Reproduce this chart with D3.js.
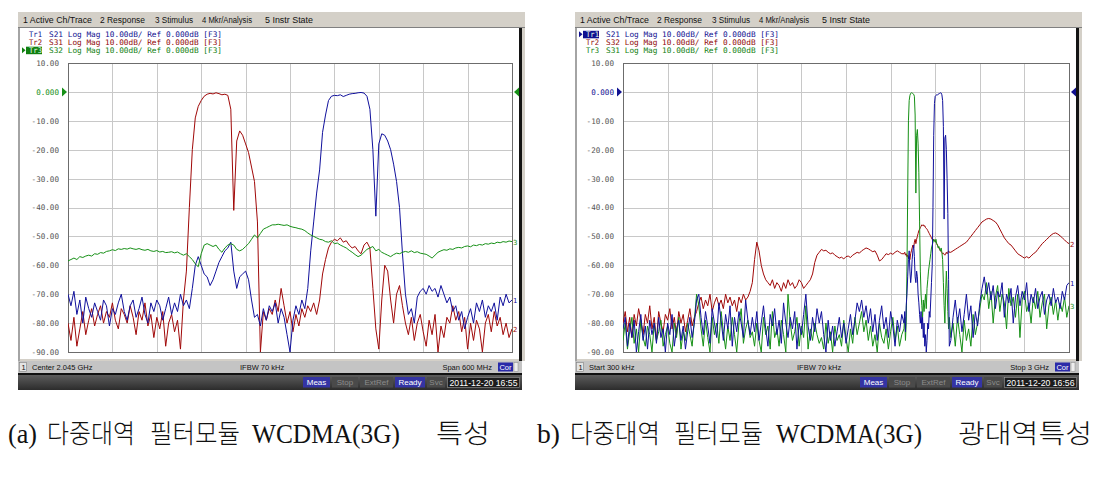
<!DOCTYPE html>
<html>
<head>
<meta charset="utf-8">
<script src="https://cdn.jsdelivr.net/npm/d3@7"></script>
<style>
  body { margin: 0; background: #fff; }
  svg { display: block; }
</style>
</head>
<body>
<svg id="chart" width="1103" height="480"></svg>
<script>
// ---------- data ----------
const yTicks = [10, 0, -10, -20, -30, -40, -50, -60, -70, -80, -90];
const yTickLabels = ["10.00", "0.000", "-10.00", "-20.00", "-30.00", "-40.00", "-50.00", "-60.00", "-70.00", "-80.00", "-90.00"];
const menuItems = ["1 Active Ch/Trace", "2 Response", "3 Stimulus", "4 Mkr/Analysis", "5 Instr State"];

// (a) narrow sweep: center 2.045 GHz, span 600 MHz (MHz)
const leftFreq = d3.range(1745, 2346, 4);
const leftS21 = [
  -70,-74,-69,-77,-72,-80,-71,-75,-78,-73,
  -76,-79,-72,-74,-81,-75,-77,-73,-70,-76,
  -79,-74,-72,-78,-75,-71,-77,-80,-73,-76,
  -72,-74,-79,-75,-71,-77,-73,-76,-70,-74,
  -72,-75,-68,-60,-57,-60,-63,-64,-67,-65,
  -62,-59,-57,-55,-54,-52,-62,-68,-64,-63,
  -62,-65,-72,-78,-77,-81,-75,-79,-74,-76,
  -73,-80,-75,-78,-84,-90,-79,-74,-77,-72,
  -75,-68,-55,-45,-35,-27,-14,-8,-3,-1.5,
  -1.2,-1.3,-1.0,-1.6,-1.2,-0.8,-0.6,-0.5,-0.3,-0.2,
  -0.4,-1.5,-6,-20,-43,-18,-14.5,-15,-17,-20,
  -25,-31,-40,-56,-70,-77,-75,-80,-71,-69,
  -68,-70,-67,-69,-68,-71,-67,-70,-73,-71,
  -76,-74,-79,-76,-82,-78,-75,-80,-73,-76,
  -72,-78,-74,-76,-73,-79,-71,-74,-70,-73,
  -72
];
const leftS31 = [
  -80,-86,-78,-88,-82,-76,-84,-79,-75,-81,
  -77,-74,-80,-76,-78,-73,-79,-82,-75,-77,
  -80,-74,-78,-84,-76,-79,-73,-81,-77,-85,
  -78,-82,-76,-88,-80,-77,-83,-79,-89,-72,
  -62,-40,-20,-9,-5,-3,-1.5,-0.8,-0.5,-0.7,
  -0.3,-0.6,-1.0,-0.8,-1.2,-6,-41,-17,-13.5,-15,
  -18,-21,-26,-31,-45,-90,-76,-79,-75,-77,
  -72,-76,-68,-74,-80,-76,-83,-77,-81,-75,
  -78,-74,-76,-73,-77,-72,-63,-58,-54,-52,
  -51,-51.5,-50.5,-52,-51.5,-53,-54,-53.5,-55,-56,
  -53,-52,-54,-68,-82,-89,-72,-60,-62,-72,
  -80,-70,-67,-74,-80,-84,-78,-86,-80,-77,
  -83,-88,-79,-84,-77,-90,-81,-85,-78,-80,
  -74,-79,-76,-83,-78,-89,-80,-86,-79,-82,
  -90,-80,-77,-83,-76,-81,-78,-84,-80,-85,
  -82
];
const leftS32 = [
  -58.5,-58,-57.5,-58,-57,-57.3,-56.8,-56.5,-56.8,-56,
  -56.2,-55.6,-55.8,-55.2,-55,-54.6,-54.9,-54.3,-54.5,-54.2,
  -54.4,-54,-54.3,-54.5,-54.2,-54.6,-54.8,-54.5,-55,-55.2,
  -54.9,-55.4,-55.2,-55.6,-55.5,-55.3,-55.7,-55.4,-56,-56.5,
  -56,-57,-58,-59.5,-60.5,-56,-53,-52.5,-53,-53.5,
  -53,-54.5,-55.5,-54,-53,-52.5,-53,-54.5,-55,-54.5,
  -53.5,-52.5,-51,-49.5,-50.5,-49,-47.5,-47,-46.5,-46,
  -46,-45.8,-46,-46.2,-46,-46.5,-46.8,-47,-47.3,-47.5,
  -48,-48.8,-49.5,-50,-50.5,-51,-51.2,-51.8,-52,-51.5,
  -52.5,-52.3,-53,-53.5,-54,-54.8,-55.5,-56.3,-57,-56.5,
  -55.5,-54.5,-54,-53.5,-55,-54.5,-55.5,-56,-56.5,-57,
  -56.3,-55.8,-56,-55.5,-55.2,-55.5,-55,-55.6,-55.3,-55.8,
  -56,-56.2,-56.8,-57.5,-56.5,-55.5,-55,-54.6,-54.8,-54.3,
  -54.5,-54,-53.8,-54,-53.5,-53.3,-53.6,-53,-53.2,-52.8,
  -53,-52.5,-52.7,-52.3,-52.5,-52,-52.2,-51.8,-52,-51.6,-51.8
];

// (b) wide sweep: start 300 kHz, stop 3 GHz (MHz), finer points around the bands
const rightFreqLo = d3.range(0, 1876, 15);
const rightFreqMid = d3.range(1890, 2196, 5);
const rightFreqHi = d3.range(2205, 3001, 15);

const rightS21Lo = [
  -82,-78,-88,-80,-85,-79,-90,-83,-77,-86,
  -81,-89,-79,-84,-80,-87,-78,-85,-82,-90,
  -80,-84,-77,-88,-82,-79,-86,-81,-89,-83,
  -78,-85,-80,-72,-70,-78,-84,-76,-81,-87,
  -75,-80,-85,-73,-79,-86,-77,-82,-74,-88,
  -78,-83,-76,-80,-85,-72,-79,-84,-78,-83,
  -76,-86,-80,-74,-82,-88,-77,-81,-75,-84,
  -79,-87,-73,-80,-85,-78,-82,-76,-89,-80,
  -84,-77,-70,-81,-86,-78,-83,-75,-80,-76,
  -84,-90,-79,-86,-81,-88,-83,-78,-85,-80,
  -87,-82,-77,-84,-79,-73,-76,-72,-78,-74,
  -80,-75,-83,-77,-86,-79,-74,-82,-78,-85,
  -76,-81,-88,-79,-83,-77
];
const rightS21Mid = [
  -80,-76,-83,-74,-70,-64,-58,-55,-62,-66,
  -63,-58,-55,-53,-57,-64,-66,-62,-64,-70,
  -73,-77,-80,-76,-82,-78,-85,-80,-88,-84,
  -90,-86,-80,-82,-76,-78,-72,-66,-60,-40,
  -15,-4,-1.5,-1.2,-1.0,-1.1,-0.8,-0.6,-0.5,-0.3,
  -0.4,-1.0,-3,-12,-44,-16,-15,-20,-30,-42,
  -65,-88
];
const rightS21Hi = [
  -86,-78,-72,-80,-75,-83,-77,-70,-79,-74,
  -85,-76,-81,-73,-68,-64,-70,-66,-72,-67,
  -75,-69,-71,-66,-78,-70,-73,-68,-80,-71,
  -67,-74,-69,-72,-66,-76,-70,-73,-68,-75,
  -71,-69,-77,-72,-70,-74,-68,-73,-71,-75,
  -69,-72,-67,-66
];

const rightS32Lo = [
  -80,-76,-83,-78,-85,-77,-81,-75,-79,-84,
  -77,-80,-74,-82,-78,-86,-76,-80,-83,-77,
  -79,-75,-82,-78,-84,-76,-80,-77,-83,-79,
  -75,-81,-78,-76,-73,-71,-75,-72,-74,-70,
  -76,-73,-71,-74,-72,-75,-70,-73,-71,-74,
  -72,-76,-71,-73,-70,-72,-71,-69,-66,-58,
  -52,-55,-60,-63,-65,-66,-67,-65,-68,-66,
  -67,-69,-66,-68,-65,-67,-66,-68,-67,-65,
  -66,-68,-67,-66,-65,-63,-59,-56.5,-55.5,-54.5,
  -55,-54.8,-55.5,-56,-55.7,-56.5,-57,-57.5,-57.2,-57.8,
  -57,-56.8,-57.3,-56.5,-56,-55.5,-55.8,-55,-54.5,-54,
  -54.3,-54.8,-55.3,-55,-56.5,-58.5,-58,-57,-56,-56.3,
  -55.8,-56.2,-55.5,-55,-55.5,-56
];
const rightS32Mid = [
  -56,-55.5,-56.5,-56,-57,-56.5,-57.5,-57,-58,-56,
  -55,-54,-53,-54,-52,-51,-52.5,-51,-50,-49,
  -48,-47.5,-47,-46.5,-46,-46.2,-46,-46.5,-46.3,-47,
  -47.2,-47.5,-48,-48.5,-49,-49.5,-50,-50.5,-51,-51.5,
  -51,-51.3,-51.6,-52,-52.5,-53,-53.5,-54,-54.5,-55,
  -55.3,-55.6,-56,-55.8,-56.2,-56.5,-56,-55.5,-56,-55.5,
  -55,-55.5
];
const rightS32Hi = [
  -55.5,-55,-54.5,-54,-53.5,-53,-52.5,-52,-51,-50,
  -49,-48,-47,-46,-45,-44.5,-44,-43.8,-44,-44.5,
  -45,-46,-47.5,-49,-50.5,-51.5,-52.5,-53,-54,-55,
  -56,-56.5,-57,-57.5,-57,-57.5,-56.8,-56,-55.5,-54.5,
  -53.5,-52.5,-51.8,-51,-50.3,-49.5,-49,-48.8,-49.2,-49.8,
  -50.5,-51.2,-52,-52.5
];

const rightS31Lo = [
  -86,-80,-89,-83,-78,-87,-82,-90,-79,-85,
  -88,-81,-84,-90,-80,-86,-83,-79,-88,-84,
  -81,-87,-90,-80,-85,-78,-89,-83,-86,-80,
  -84,-88,-79,-70,-74,-82,-88,-79,-85,-90,
  -78,-84,-80,-87,-76,-83,-89,-81,-86,-78,
  -84,-90,-80,-75,-87,-82,-79,-85,-83,-88,
  -80,-86,-90,-78,-84,-81,-89,-76,-85,-82,
  -88,-79,-84,-90,-70,-80,-86,-83,-78,-88,
  -81,-85,-74,-89,-82,-86,-80,-84,-87,-85,
  -89,-80,-87,-83,-90,-81,-86,-84,-88,-79,
  -85,-90,-82,-87,-78,-84,-80,-76,-83,-79,
  -86,-81,-88,-84,-90,-80,-85,-87,-82,-89,
  -83,-78,-86,-81,-88,-84
];
const rightS31Mid = [
  -82,-78,-86,-80,-62,-35,-10,-3,-1.2,-0.5,
  -0.3,-0.4,-0.6,-0.8,-1.5,-8,-35,-15,-13,-18,
  -28,-45,-62,-70,-74,-78,-72,-76,-73,-70,
  -75,-68,-65,-62,-60,-58,-56,-54,-53,-52,
  -51,-51.5,-52,-51,-52.5,-53,-54,-53.5,-54.5,-55,
  -54,-55.5,-58,-66,-74,-80,-70,-62,-68,-76,
  -82,-78
];
const rightS31Hi = [
  -85,-80,-88,-78,-84,-90,-79,-86,-82,-88,
  -77,-84,-80,-75,-70,-72,-66,-75,-69,-80,
  -71,-67,-76,-70,-73,-82,-68,-74,-71,-78,
  -70,-85,-72,-69,-76,-73,-80,-71,-75,-69,
  -78,-73,-70,-82,-74,-71,-77,-72,-79,-73,
  -76,-71,-78,-74
];

const captionLeft = ["(a)", "다중대역", "필터모듈", "WCDMA(3G)", "특성"];
const captionRight = ["b)", "다중대역", "필터모듈", "WCDMA(3G)", "광대역특성"];

// ---------- helpers ----------
const BLUE = "#10109c", RED = "#a00808", GREEN = "#169016";
const svg = d3.select("#chart");

function pairs(freqs, vals) {
  return d3.zip(freqs.slice(0, vals.length), vals);
}

const y = d3.scaleLinear().domain([-90, 10]).range([352, 63]);

function drawPanel(cfg) {
  const x0 = cfg.x0, x1 = cfg.x1;
  const g = svg.append("g");
  const x = d3.scaleLinear().domain(cfg.domain).range([cfg.gx0, cfg.gx1]);

  // window frame
  g.append("rect").attr("x", x0).attr("y", 12).attr("width", x1 - x0).attr("height", 349)
    .attr("fill", "#d4d0c8");
  g.append("rect").attr("x", x0 + 2).attr("y", 28).attr("width", x1 - x0 - 8).attr("height", 331)
    .attr("fill", "#fff");
  g.append("rect").attr("x", x0).attr("y", 28).attr("width", 2).attr("height", 333).attr("fill", "#a4a4a4");
  g.append("rect").attr("x", x1 - 6).attr("y", 28).attr("width", 3).attr("height", 333).attr("fill", "#141414");
  g.append("line").attr("x1", x0).attr("x2", x1).attr("y1", 27.5).attr("y2", 27.5)
    .attr("stroke", "#808080");

  // menu
  const menuX = [5, 82, 137, 184, 247], menuW = [69, 45, 38, 50, 48];
  g.selectAll(".menu").data(menuItems).join("text")
    .attr("x", (d, i) => x0 + menuX[i]).attr("y", 22.5)
    .attr("textLength", (d, i) => menuW[i]).attr("lengthAdjust", "spacingAndGlyphs")
    .style("font-family", "Liberation Sans, Arial, sans-serif").style("font-size", "8.5px")
    .attr("fill", "#111").text(d => d);

  // header lines
  const rowY = [37.3, 45.2, 53.2];
  cfg.header.forEach((h, i) => {
    if (i === cfg.active) {
      g.append("path").attr("d", `M${x0 + 4},${rowY[i] - 6} L${x0 + 7.5},${rowY[i] - 3} L${x0 + 4},${rowY[i]} Z`)
        .attr("fill", h.color);
      g.append("rect").attr("x", x0 + 8).attr("y", rowY[i] - 6.5).attr("width", 16).attr("height", 7.5)
        .attr("fill", h.color);
    }
    g.append("text").attr("x", x0 + 11).attr("y", rowY[i])
      .attr("textLength", 13).attr("lengthAdjust", "spacingAndGlyphs")
      .style("font-family", "DejaVu Sans Mono, monospace").style("font-size", "7.6px")
      .attr("fill", i === cfg.active ? "#e8ffe8" : h.color).text(h.tr);
    g.append("text").attr("x", x0 + 31).attr("y", rowY[i])
      .attr("textLength", 173).attr("lengthAdjust", "spacingAndGlyphs")
      .style("font-family", "DejaVu Sans Mono, monospace").style("font-size", "7.6px")
      .attr("fill", h.color).text(h.text);
  });

  // grid
  const divs = d3.range(11).map(i => cfg.domain[0] + i * (cfg.domain[1] - cfg.domain[0]) / 10);
  g.selectAll(".vg").data(divs.slice(1, 10)).join("line")
    .attr("x1", d => Math.round(x(d)) + 0.5).attr("x2", d => Math.round(x(d)) + 0.5)
    .attr("y1", y(10)).attr("y2", y(-90)).attr("stroke", "#c8c8c8");
  g.selectAll(".hg").data(yTicks.slice(1, 10)).join("line")
    .attr("x1", cfg.gx0).attr("x2", cfg.gx1)
    .attr("y1", d => Math.round(y(d)) + 0.5).attr("y2", d => Math.round(y(d)) + 0.5)
    .attr("stroke", "#c8c8c8");
  g.append("rect").attr("x", cfg.gx0 + 0.5).attr("y", Math.round(y(10)) + 0.5)
    .attr("width", cfg.gx1 - cfg.gx0).attr("height", Math.round(y(-90) - y(10)))
    .attr("fill", "none").attr("stroke", "#6c6c6c");

  // y axis labels
  const ax = g.append("g").attr("transform", `translate(${cfg.gx0 - 9},0)`)
    .call(d3.axisLeft(y).tickValues(yTicks).tickFormat((d, i) => yTickLabels[i]).tickSize(0).tickPadding(0));
  ax.select(".domain").remove();
  ax.selectAll("text")
    .style("font-family", "DejaVu Sans Mono, monospace").style("font-size", "7.6px")
    .attr("fill", d => d === 0 ? cfg.refColor : "#555");

  // reference markers
  const r0 = y(0);
  g.append("path").attr("d", `M${cfg.gx0 - 6},${r0 - 4.5} L${cfg.gx0 - 1},${r0} L${cfg.gx0 - 6},${r0 + 4.5} Z`)
    .attr("fill", cfg.refColor);
  g.append("path").attr("d", `M${cfg.gx1 + 7},${r0 - 4.5} L${cfg.gx1 + 2},${r0} L${cfg.gx1 + 7},${r0 + 4.5} Z`)
    .attr("fill", cfg.refColor);

  // traces
  const line = d3.line().x(d => x(d[0])).y(d => y(Math.max(-90, d[1])));
  const clipId = "clip" + x0;
  g.append("clipPath").attr("id", clipId).append("rect")
    .attr("x", cfg.gx0).attr("y", y(10)).attr("width", cfg.gx1 - cfg.gx0).attr("height", y(-90) - y(10) + 1);
  cfg.traces.forEach(t => {
    g.append("path").attr("d", line(t.data)).attr("fill", "none")
      .attr("stroke", t.color).attr("stroke-width", 1).attr("clip-path", `url(#${clipId})`);
    const last = t.data[t.data.length - 1];
    g.append("text").attr("x", cfg.gx1 + 1).attr("y", y(last[1]) + 3)
      .style("font-family", "DejaVu Sans, sans-serif").style("font-size", "7px")
      .attr("fill", t.color).text(t.label);
  });

  // status bar
  g.append("rect").attr("x", x0).attr("y", 361).attr("width", x1 - x0 - 3).attr("height", 12).attr("fill", "#c4c4c4");
  g.append("rect").attr("x", x0 + 1.5).attr("y", 362.5).attr("width", 7).attr("height", 9)
    .attr("fill", "#e4e4e4").attr("stroke", "#808080").attr("stroke-width", 0.6);
  const stFont = "Liberation Sans, Arial, sans-serif";
  g.append("text").attr("x", x0 + 3.5).attr("y", 370).style("font-family", stFont).style("font-size", "7.5px")
    .attr("fill", "#111").text("1");
  g.append("text").attr("x", x0 + 14).attr("y", 370).style("font-family", stFont).style("font-size", "7.5px")
    .attr("fill", "#111").text(cfg.statusLeft);
  g.append("text").attr("x", x0 + 222).attr("y", 370).style("font-family", stFont).style("font-size", "7.5px")
    .attr("fill", "#111").text("IFBW 70 kHz");
  g.append("text").attr("x", x0 + 474).attr("y", 370).attr("text-anchor", "end")
    .style("font-family", stFont).style("font-size", "7.5px").attr("fill", "#111").text(cfg.statusRight);
  g.append("rect").attr("x", x0 + 480).attr("y", 362.5).attr("width", 15).attr("height", 9).attr("fill", "#2a2aa8");
  g.append("text").attr("x", x0 + 487.5).attr("y", 370).attr("text-anchor", "middle")
    .style("font-family", stFont).style("font-size", "7.5px").attr("fill", "#fff").text("Cor");
  g.append("rect").attr("x", x0 + 496).attr("y", 362.5).attr("width", 4).attr("height", 9)
    .attr("fill", "#eee").attr("stroke", "#888").attr("stroke-width", 0.5);

  // bottom bar
  g.append("rect").attr("x", x0).attr("y", 373).attr("width", x1 - x0 - 3).attr("height", 2).attr("fill", "#111");
  g.append("rect").attr("x", x0).attr("y", 375).attr("width", x1 - x0 - 3).attr("height", 15).attr("fill", "url(#barGrad)");
  const btns = [
    { t: "Meas", a: 285, w: 27, on: true }, { t: "Stop", a: 314, w: 26, on: false },
    { t: "ExtRef", a: 342, w: 33, on: false }, { t: "Ready", a: 377, w: 30, on: true },
    { t: "Svc", a: 409, w: 18, on: false }
  ];
  btns.forEach(b => {
    g.append("rect").attr("x", x0 + b.a).attr("y", 377).attr("width", b.w).attr("height", 10.5)
      .attr("fill", b.on ? "#3434a4" : "#4a4a4a");
    g.append("text").attr("x", x0 + b.a + b.w / 2).attr("y", 385).attr("text-anchor", "middle")
      .style("font-family", stFont).style("font-size", "8px")
      .attr("fill", b.on ? "#fff" : "#8c8c8c").text(b.t);
  });
  g.append("rect").attr("x", x0 + 429.5).attr("y", 377.5).attr("width", 72).attr("height", 10)
    .attr("fill", "#1c1c1c").attr("stroke", "#9a9a9a").attr("stroke-width", 0.6);
  g.append("text").attr("x", x0 + 465.5).attr("y", 385.5).attr("text-anchor", "middle")
    .attr("textLength", 68).attr("lengthAdjust", "spacingAndGlyphs")
    .style("font-family", stFont).style("font-size", "8.5px").attr("fill", "#fff").text(cfg.date);
}

const grad = svg.append("defs").append("linearGradient").attr("id", "barGrad")
  .attr("x1", 0).attr("x2", 0).attr("y1", 0).attr("y2", 1);
grad.append("stop").attr("offset", "0%").attr("stop-color", "#5c5c5c");
grad.append("stop").attr("offset", "100%").attr("stop-color", "#2c2c2c");

drawPanel({
  x0: 18, x1: 525, gx0: 68, gx1: 512, domain: [1745, 2345],
  refColor: GREEN, active: 2,
  header: [
    { tr: "Tr1", text: "S21 Log Mag 10.00dB/ Ref 0.000dB [F3]", color: "#101090" },
    { tr: "Tr2", text: "S31 Log Mag 10.00dB/ Ref 0.000dB [F3]", color: "#900808" },
    { tr: "Tr3", text: "S32 Log Mag 10.00dB/ Ref 0.000dB [F3]", color: "#108010" }
  ],
  traces: [
    { data: pairs(leftFreq, leftS31), color: RED, label: "2" },
    { data: pairs(leftFreq, leftS21), color: BLUE, label: "1" },
    { data: pairs(leftFreq, leftS32), color: GREEN, label: "3" }
  ],
  statusLeft: "Center 2.045 GHz", statusRight: "Span 600 MHz", date: "2011-12-20 16:55"
});

drawPanel({
  x0: 575, x1: 1082, gx0: 623, gx1: 1069, domain: [0, 3000],
  refColor: "#101090", active: 0,
  header: [
    { tr: "Tr1", text: "S21 Log Mag 10.00dB/ Ref 0.000dB [F3]", color: "#101090" },
    { tr: "Tr2", text: "S32 Log Mag 10.00dB/ Ref 0.000dB [F3]", color: "#900808" },
    { tr: "Tr3", text: "S31 Log Mag 10.00dB/ Ref 0.000dB [F3]", color: "#108010" }
  ],
  traces: [
    { data: pairs(rightFreqLo, rightS32Lo).concat(pairs(rightFreqMid, rightS32Mid), pairs(rightFreqHi, rightS32Hi)), color: RED, label: "2" },
    { data: pairs(rightFreqLo, rightS31Lo).concat(pairs(rightFreqMid, rightS31Mid), pairs(rightFreqHi, rightS31Hi)), color: GREEN, label: "3" },
    { data: pairs(rightFreqLo, rightS21Lo).concat(pairs(rightFreqMid, rightS21Mid), pairs(rightFreqHi, rightS21Hi)), color: BLUE, label: "1" }
  ],
  statusLeft: "Start 300 kHz", statusRight: "Stop 3 GHz", date: "2011-12-20 16:56"
});

// captions
const capLeftX = [8, 47, 150, 252, 436], capLeftW = [29, 88, 90, 148, 54];
const capRightX = [537, 570, 674, 776, 958], capRightW = [23, 90, 89, 146, 134];
function caption(words, xs, ws) {
  svg.selectAll(null).data(words).join("text")
    .attr("x", (d, i) => xs[i]).attr("y", 443)
    .attr("textLength", (d, i) => ws[i]).attr("lengthAdjust", "spacingAndGlyphs")
    .style("font-family", d => /[가-힣]/.test(d) ? "Noto Sans CJK KR, sans-serif" : "Liberation Serif, serif")
    .style("font-size", d => /[가-힣]/.test(d) ? "26px" : "27px")
    .style("font-weight", d => /[가-힣]/.test(d) ? "300" : "400")
    .attr("fill", "#111").text(d => d);
}
caption(captionLeft, capLeftX, capLeftW);
caption(captionRight, capRightX, capRightW);
</script>
</body>
</html>
